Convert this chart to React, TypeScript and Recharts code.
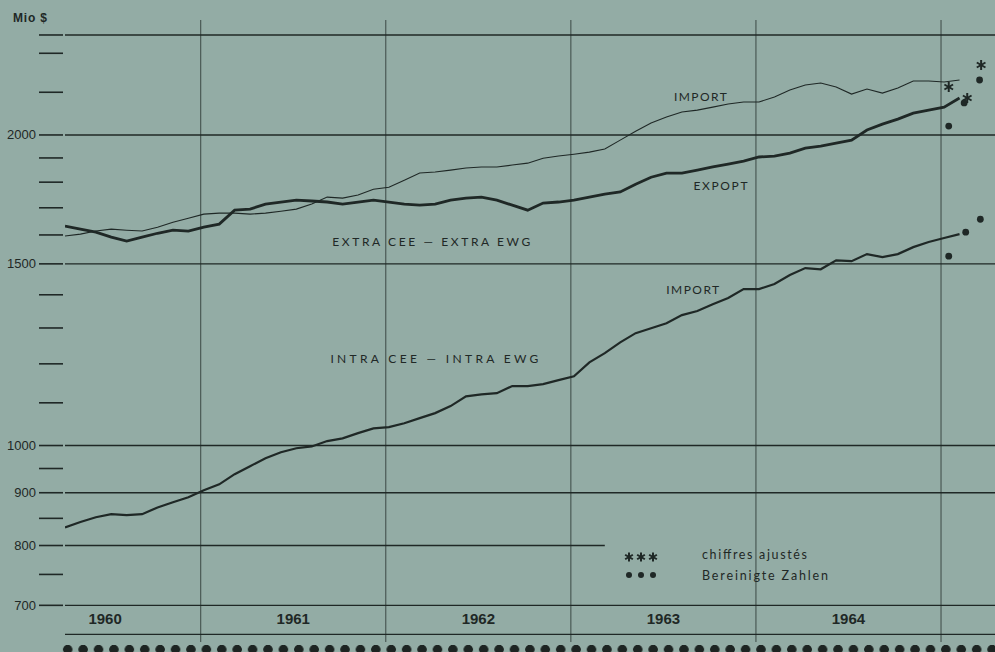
import React from 'react';
import {
  ComposedChart,
  Line,
  Scatter,
  XAxis,
  YAxis,
  ReferenceLine,
  ReferenceDot,
} from 'recharts';

// months counted from Jan 1960; first plotted value sits a bit after March 1960
const START_MONTH = 3.2;

// EXTRA CEE - EXTRA EWG, imports (Mio $), monthly
const extraImport = [
  1596, 1603, 1614, 1621, 1617, 1614, 1628, 1646, 1661, 1676, 1680, 1680,
  1676, 1680, 1687, 1695, 1714, 1741, 1737, 1749, 1772, 1780, 1808, 1837,
  1841, 1849, 1858, 1862, 1862, 1870, 1878, 1899, 1908, 1916, 1925, 1938,
  1977, 2017, 2054, 2082, 2105, 2114, 2128, 2143, 2153, 2153, 2177, 2211,
  2236, 2246, 2226, 2191, 2216, 2196, 2221, 2256, 2256, 2251, 2261,
];

// EXTRA CEE - EXTRA EWG, exports (Mio $)
const extraExport = [
  1632, 1621, 1610, 1592, 1578, 1592, 1606, 1617, 1614, 1628, 1639, 1691,
  1695, 1714, 1722, 1729, 1726, 1722, 1714, 1722, 1729, 1722, 1714, 1710,
  1714, 1729, 1737, 1741, 1729, 1710, 1691, 1718, 1722, 1729, 1741, 1753,
  1761, 1792, 1820, 1837, 1837, 1849, 1862, 1874, 1887, 1904, 1908, 1921,
  1942, 1951, 1964, 1977, 2022, 2049, 2072, 2100, 2114, 2128, 2172,
];

// INTRA CEE - INTRA EWG, imports (Mio $)
const intraImport = [
  833, 843, 852, 858, 856, 858, 871, 881, 891, 905, 917, 938,
  955, 972, 985, 994, 998, 1010, 1016, 1028, 1039, 1042, 1051, 1063,
  1075, 1092, 1116, 1121, 1124, 1142, 1142, 1147, 1157, 1167, 1204, 1229,
  1259, 1285, 1299, 1314, 1338, 1350, 1371, 1390, 1418, 1418, 1434, 1463,
  1486, 1482, 1512, 1509, 1533, 1523, 1533, 1557, 1575, 1589, 1603,
];

// chiffres ajustés (asterisks)
const starMonths = [60.5, 61.7, 62.6];
const starValues = [2226, 2172, 2338];

// Bereinigte Zahlen (dots)
const dotMonths = [60.5, 61.5, 62.5, 60.5, 61.6, 62.55];
const dotValues = [2040, 2148, 2261, 1526, 1610, 1657];

const Y_TICKS = [700, 750, 800, 850, 900, 950, 1000, 1100, 1200, 1300, 1400, 1500,
  1600, 1700, 1800, 1900, 2000, 2200, 2400, 2500];
const Y_LABELED = [700, 800, 900, 1000, 1500, 2000];
const Y_GRID = [2500, 2000, 1500, 1000, 900, 700];
const YEAR_STARTS = [12, 24, 36, 48, 60];
const YEAR_TICKS = [5.8, 18, 30, 42, 54];
const YEARS = ['1960', '1961', '1962', '1963', '1964'];

const BG = '#93aca5';
const INK = '#1f2826';

const toRows = (vals: number[]) => vals.map((v, i) => ({ m: START_MONTH + i, v }));
const toPoints = (ms: number[], vs: number[]) => ms.map((m, i) => ({ m, v: vs[i] }));

function ValueTick({ y, payload }: any) {
  const v = payload.value;
  return (
    <g>
      <line x1={39} x2={63} y1={y} y2={y} stroke={INK} strokeWidth={1.6} />
      {Y_LABELED.includes(v) && (
        <text x={36} y={y} dy={4.5} textAnchor="end" fontFamily="Liberation Sans, Arial" fontSize={13} fill={INK}>
          {v}
        </text>
      )}
    </g>
  );
}

function YearTick({ x, payload }: any) {
  const idx = YEAR_TICKS.indexOf(payload.value);
  return (
    <text x={x} y={624} textAnchor="middle" fontFamily="Liberation Sans, Arial" fontWeight="bold" fontSize={15} fill={INK}>
      {YEARS[idx]}
    </text>
  );
}

function drawAsterisk(cx: number, cy: number, arm: number) {
  return (
    <g>
      {[0, 60, 120].map((a) => {
        const r = (a * Math.PI) / 180;
        return (
          <line key={a} x1={cx - arm * Math.sin(r)} y1={cy - arm * Math.cos(r)}
            x2={cx + arm * Math.sin(r)} y2={cy + arm * Math.cos(r)}
            stroke={INK} strokeWidth={2} />
        );
      })}
    </g>
  );
}

// scatter passes its own "size" prop, so ignore it here
function StarShape({ cx, cy }: any) {
  return drawAsterisk(cx, cy, 5);
}

function DotShape({ cx, cy }: any) {
  return <circle cx={cx} cy={cy} r={3.4} fill={INK} />;
}

const textLabel = (text: string, width: number, size = 12) => (props: any) => {
  const { viewBox } = props;
  const cx = viewBox.x + (viewBox.width || 0) / 2;
  const cy = viewBox.y + (viewBox.height || 0) / 2;
  return (
    <text x={cx} y={cy + size * 0.36} textAnchor="middle" fontFamily="Lato, Open Sans" fontSize={size}
      fill={INK} textLength={width} lengthAdjust="spacing">
      {text}
    </text>
  );
};

export default function App() {
  return (
    <div style={{ position: 'relative', width: 995, height: 652, background: BG, overflow: 'hidden' }}>
      <style>{'body{margin:0}'}</style>
      <div style={{
        position: 'absolute', left: 13, top: 11, fontFamily: 'Liberation Sans, Arial',
        fontWeight: 'bold', fontSize: 12, letterSpacing: 0.8, color: INK,
      }}>Mio $</div>

      <ComposedChart width={995} height={652} margin={{ top: 20, right: 0, bottom: 0, left: 0 }}>
        <XAxis type="number" dataKey="m" domain={[3.2, 63.5]} allowDataOverflow
          ticks={YEAR_TICKS} interval={0} height={10} axisLine={false} tickLine={false}
          tick={<YearTick />} />
        <YAxis type="number" scale="log" domain={[645, 2585]} allowDataOverflow
          ticks={Y_TICKS} interval={0} width={65} axisLine={false} tickLine={false}
          tick={<ValueTick />} />

        {Y_GRID.map((v) => (
          <ReferenceLine key={v} y={v} stroke={INK} strokeWidth={1.4} />
        ))}
        <ReferenceLine segment={[{ x: 3.2, y: 800 }, { x: 38.2, y: 800 }]} stroke={INK} strokeWidth={1.3} />
        <ReferenceLine y={656} stroke={INK} strokeWidth={1.3} />
        {YEAR_STARTS.map((m) => (
          <ReferenceLine key={m} x={m} stroke={INK} strokeWidth={1} strokeOpacity={0.75} />
        ))}

        <Line data={toRows(extraImport)} dataKey="v" type="linear" stroke={INK} strokeWidth={1.1}
          dot={false} isAnimationActive={false} />
        <Line data={toRows(extraExport)} dataKey="v" type="linear" stroke={INK} strokeWidth={2.8}
          dot={false} isAnimationActive={false} />
        <Line data={toRows(intraImport)} dataKey="v" type="linear" stroke={INK} strokeWidth={2.2}
          dot={false} isAnimationActive={false} />

        <Scatter data={toPoints(starMonths, starValues)} dataKey="v" shape={<StarShape />} isAnimationActive={false} />
        <Scatter data={toPoints(dotMonths, dotValues)} dataKey="v" shape={<DotShape />} isAnimationActive={false} />

        <ReferenceDot x={44.4} y={2180} r={0} label={{ content: textLabel('IMPORT', 53) }} />
        <ReferenceDot x={45.7} y={1784} r={0} label={{ content: textLabel('EXPOPT', 54) }} />
        <ReferenceDot x={43.9} y={1417} r={0} label={{ content: textLabel('IMPORT', 53) }} />
        <ReferenceDot x={26.95} y={1577} r={0} label={{ content: textLabel('EXTRA CEE — EXTRA EWG', 198) }} />
        <ReferenceDot x={27.15} y={1214} r={0} label={{ content: textLabel('INTRA CEE — INTRA EWG', 208) }} />
      </ComposedChart>

      {/* legend */}
      <svg style={{ position: 'absolute', left: 615, top: 540 }} width={240} height={50}>
        {drawAsterisk(14, 17, 4.5)}
        {drawAsterisk(26, 17, 4.5)}
        {drawAsterisk(38, 17, 4.5)}
        <circle cx={14} cy={35} r={3} fill={INK} />
        <circle cx={26} cy={35} r={3} fill={INK} />
        <circle cx={38} cy={35} r={3} fill={INK} />
        <text x={87} y={19} fontFamily="Lato, Open Sans" fontSize={12.5} fill={INK} textLength={105} lengthAdjust="spacing">chiffres ajustés</text>
        <text x={87} y={40} fontFamily="Lato, Open Sans" fontSize={12.5} fill={INK} textLength={126} lengthAdjust="spacing">Bereinigte Zahlen</text>
      </svg>

      {/* perforated bottom edge */}
      <div style={{
        position: 'absolute', left: 60, top: 644, width: 935, height: 11,
        backgroundImage: `radial-gradient(circle at 50% 50%, #1d2422 4.3px, transparent 5px)`,
        backgroundSize: '15.42px 11px',
      }} />
    </div>
  );
}
